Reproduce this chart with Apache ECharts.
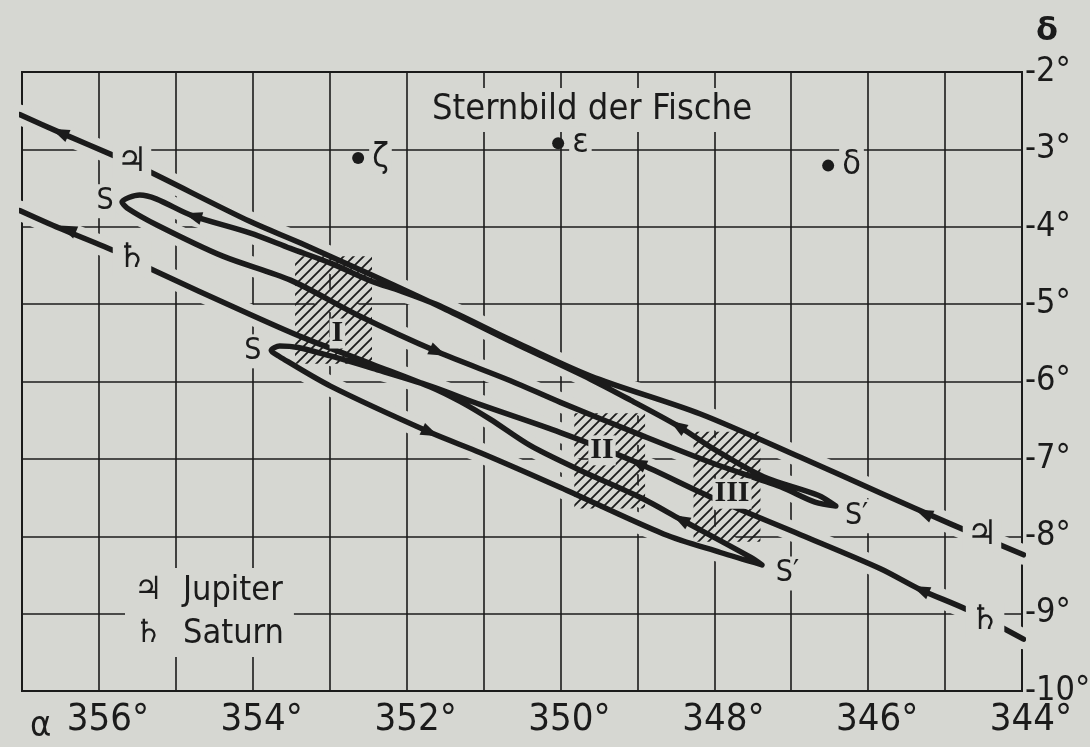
<!DOCTYPE html>
<html><head><meta charset="utf-8">
<script src="https://cdn.jsdelivr.net/npm/echarts@6/dist/echarts.min.js"></script>
<style>html,body{margin:0;padding:0;background:#d6d7d2;}#c{width:1090px;height:747px;}</style>
</head><body><div id="c"></div>
<script>
const BG = '#d6d7d2';
const INK = '#1b1b1b';
const FONT = "'DejaVu Sans Condensed','Liberation Sans Narrow','Liberation Sans',sans-serif";

// tick labels
const xTicks = [356, 354, 352, 350, 348, 346, 344];
const yTicks = [-2, -3, -4, -5, -6, -7, -8, -9, -10];

// Jupiter path [RA α°, Dec δ°] in time order
const jupiterPath = [
  [343.98,-8.24],[344.93,-7.84],[345.84,-7.44],[346.88,-6.98],[348.18,-6.42],[349.61,-5.93],[350.65,-5.46],[351.53,-5.04],
  [352.08,-4.83],[352.44,-4.71],[352.99,-4.47],[353.51,-4.28],[354.04,-4.08],[354.78,-3.86],[355.47,-3.59],[355.70,-3.68],
  [355.63,-3.76],[355.24,-3.98],[354.39,-4.38],[353.51,-4.69],[352.64,-5.14],[351.59,-5.62],[350.65,-5.99],[350.00,-6.27],
  [348.96,-6.69],[348.01,-7.06],[347.14,-7.36],[346.69,-7.56],[346.42,-7.61],
  [346.65,-7.47],[347.36,-7.23],[348.01,-6.87],[348.48,-6.57],[349.09,-6.24],[349.61,-5.97],[350.65,-5.48],[351.53,-5.05],
  [352.44,-4.63],[353.38,-4.21],[354.04,-3.93],[355.36,-3.28],[355.76,-3.10],[356.51,-2.78],[357.03,-2.55]
];
// Saturn path [RA α°, Dec δ°] in time order
const saturnPath = [
  [343.98,-9.33],[344.71,-8.95],[345.32,-8.69],[345.84,-8.42],[346.88,-7.98],[348.01,-7.51],[349.00,-7.05],[350.00,-6.66],
  [351.04,-6.30],[351.69,-6.06],
  [352.44,-5.83],[352.99,-5.67],[353.41,-5.56],[353.65,-5.54],[353.76,-5.60],
  [353.65,-5.68],[352.99,-6.06],[351.69,-6.66],[351.04,-6.92],[350.00,-7.37],[348.66,-7.97],[347.92,-8.21],[347.38,-8.37],
  [347.53,-8.27],[348.44,-7.78],[348.96,-7.50],[349.74,-7.15],[350.39,-6.83],[350.91,-6.49],[351.30,-6.26],[351.69,-6.07],
  [352.44,-5.78],[353.35,-5.43],[354.04,-5.13],[355.36,-4.53],[355.76,-4.33],[356.51,-4.02],[357.03,-3.79]
];
// direction-of-motion arrows placed on the paths
const jupiterArrows = [[356.51,-2.78],[354.78,-3.86],[351.59,-5.62],[348.48,-6.57],[345.28,-7.70]];
const saturnArrows = [[356.41,-4.03],[351.69,-6.66],[348.44,-7.78],[345.32,-8.69],[349.00,-7.05]];

// stars of Pisces
const starNames = ['ζ', 'ε', 'δ'];
const starPos = [[352.63,-3.11],[350.03,-2.92],[346.52,-3.21]];
// stationary points
const stationNames = ['S', 'S′', 'S', 'S′'];
const stationPos = [[355.92,-3.67],[346.15,-7.74],[354.00,-5.61],[347.05,-8.48]];
// planet symbols on the tracks
const glyphNames = ['♃', '♃', '♄', '♄'];
const glyphPos = [[355.57,-3.16],[344.52,-7.98],[355.57,-4.41],[344.48,-9.08]];
// conjunctions
const conjNames = ['I', 'II', 'III'];
const conjPos = [[352.90,-5.38],[349.46,-6.89],[347.77,-7.45]];
const conjBoxes = [[353.45,-4.38,352.45,-5.77],[349.82,-6.41,348.90,-7.64],[348.27,-6.65,347.40,-8.07]];

// hatch pattern
const T = 10;
const pc = document.createElement('canvas');
pc.width = T; pc.height = T;
const g = pc.getContext('2d');
g.strokeStyle = INK; g.lineWidth = 1.8;
g.beginPath();
g.moveTo(-1, T + 1); g.lineTo(T + 1, -1);
g.moveTo(-1, 1); g.lineTo(1, -1);
g.moveTo(T - 1, T + 1); g.lineTo(T + 1, T - 1);
g.stroke();
const hatch = { image: pc, repeat: 'repeat' };

const chart = echarts.init(document.getElementById('c'), null, { renderer: 'canvas' });

function labelSeries(id, names, pos, lbl) {
  return {
    id, type: 'scatter', z: 7, silent: true, symbolSize: 1,
    itemStyle: { color: 'rgba(0,0,0,0)', opacity: 1 },
    data: pos.map((p, i) => ({ name: names[i], value: p })),
    label: Object.assign({ show: true, position: 'inside', formatter: '{b}', color: INK, opacity: 1, backgroundColor: BG }, lbl)
  };
}

const option = {
  animation: false,
  backgroundColor: BG,
  title: {
    text: 'Sternbild der Fische', left: 426, top: 88, padding: [3, 6], backgroundColor: BG,
    textStyle: { fontFamily: FONT, fontSize: 36, fontWeight: 'normal', color: INK, lineHeight: 38 }
  },
  legend: {
    data: ['Jupiter', 'Saturn'], orient: 'vertical', left: 125, top: 568,
    itemWidth: 0, itemHeight: 0, itemGap: 9, selectedMode: false,
    backgroundColor: BG, padding: [6, 10, 6, 3],
    formatter: n => '{g|' + (n === 'Jupiter' ? '♃' : '♄') + '}{t|' + n + '}',
    textStyle: {
      rich: {
        g: { fontFamily: 'DejaVu Sans', fontSize: 32, width: 49, color: INK, lineHeight: 36 },
        t: { fontFamily: FONT, fontSize: 34, color: INK, lineHeight: 36 }
      }
    }
  },
  grid: { left: 22, right: 68, top: 72, bottom: 56, show: true, borderColor: INK, borderWidth: 2,
          outerBoundsMode: 'none', containLabel: false },
  xAxis: {
    type: 'value', min: 344, max: 357, interval: 1, inverse: true, position: 'bottom',
    axisLine: { show: true, lineStyle: { color: INK, width: 2 } },
    axisTick: { show: false },
    splitLine: { show: true, lineStyle: { color: INK, width: 1.6 } },
    axisLabel: {
      formatter: v => xTicks.includes(v) ? v + '°' : '', showMinLabel: true, showMaxLabel: true,
      fontFamily: FONT, fontSize: 38, color: INK, margin: 10, padding: [0, 0, 0, 18]
    },
    name: 'α', nameLocation: 'end', nameGap: -8,
    nameTextStyle: { fontFamily: FONT, fontSize: 36, color: INK, align: 'left', verticalAlign: 'top', padding: [18, 0, 0, 0] }
  },
  yAxis: {
    type: 'value', min: -10, max: -2, interval: 1, position: 'right',
    axisLine: { show: true, lineStyle: { color: INK, width: 2 } },
    axisTick: { show: false },
    splitLine: { show: true, lineStyle: { color: INK, width: 1.6 } },
    axisLabel: {
      formatter: v => yTicks.includes(v) ? v + '°' : '', showMinLabel: true, showMaxLabel: true,
      fontFamily: FONT, fontSize: 34, color: INK, margin: 3
    },
    name: 'δ', nameLocation: 'end', nameGap: 24,
    nameTextStyle: { fontFamily: 'DejaVu Sans', fontWeight: 'bold', fontSize: 32, color: INK, align: 'left', padding: [0, 0, 0, 14] }
  },
  series: [
    { id: 'jHalo', name: 'Jupiter halo', type: 'line', data: jupiterPath, symbol: 'none', smooth: 0.3, silent: true, z: 2,
      lineStyle: { color: BG, width: 20, cap: 'round', join: 'round' } },
    { id: 'sHalo', name: 'Saturn halo', type: 'line', data: saturnPath, symbol: 'none', smooth: 0.3, silent: true, z: 2,
      lineStyle: { color: BG, width: 20, cap: 'round', join: 'round' } },
    { id: 'conj', name: 'Konjunktion', type: 'custom', z: 3, silent: true,
      encode: { x: [0, 2], y: [1, 3] }, data: conjBoxes,
      renderItem: (params, api) => {
        const p1 = api.coord([api.value(0), api.value(1)]);
        const p2 = api.coord([api.value(2), api.value(3)]);
        return { type: 'rect', shape: { x: Math.min(p1[0], p2[0]), y: Math.min(p1[1], p2[1]), width: Math.abs(p2[0] - p1[0]), height: Math.abs(p2[1] - p1[1]) },
                 style: { fill: hatch } };
      } },
    { id: 'jLine', name: 'Jupiter', type: 'line', data: jupiterPath, symbol: 'none', smooth: 0.3, silent: true, z: 4,
      itemStyle: { color: INK }, lineStyle: { color: INK, width: 5.5, cap: 'round', join: 'round' } },
    { id: 'sLine', name: 'Saturn', type: 'line', data: saturnPath, symbol: 'none', smooth: 0.3, silent: true, z: 4,
      itemStyle: { color: INK }, lineStyle: { color: INK, width: 5.5, cap: 'round', join: 'round' } },
    { id: 'jArrows', type: 'scatter', z: 5, silent: true, symbol: 'triangle', symbolSize: [13, 18], itemStyle: { color: INK, opacity: 1 }, data: [] },
    { id: 'sArrows', type: 'scatter', z: 5, silent: true, symbol: 'triangle', symbolSize: [13, 18], itemStyle: { color: INK, opacity: 1 }, data: [] },
    { id: 'stars', type: 'scatter', z: 6, silent: true, symbol: 'circle', symbolSize: 12, itemStyle: { color: INK, opacity: 1 },
      data: starPos.map((p, i) => ({ name: starNames[i], value: p })),
      label: { show: true, position: 'right', distance: 5, formatter: '{b}', color: INK, opacity: 1, fontFamily: FONT, fontSize: 34, backgroundColor: BG, padding: [0, 3] } },
    labelSeries('stations', stationNames, stationPos, { fontFamily: FONT, fontSize: 30, padding: [2, 2] }),
    labelSeries('glyphs', glyphNames, glyphPos, { fontFamily: 'DejaVu Sans', fontSize: 34, padding: [0, 4] }),
    labelSeries('conjLabels', conjNames, conjPos, { fontFamily: "'Liberation Serif','DejaVu Serif',serif", fontWeight: 'bold', fontSize: 30, padding: [0, 2] })
  ]
};
chart.setOption(option);

function arrowData(path, arrows) {
  const px = path.map(p => chart.convertToPixel({ gridIndex: 0 }, p));
  return arrows.map(a => {
    const q = chart.convertToPixel({ gridIndex: 0 }, a);
    let best = 0, bd = Infinity;
    for (let i = 0; i < px.length - 1; i++) {
      const [x1, y1] = px[i], [x2, y2] = px[i + 1];
      const dx = x2 - x1, dy = y2 - y1, L = dx * dx + dy * dy || 1;
      let t = ((q[0] - x1) * dx + (q[1] - y1) * dy) / L; t = Math.max(0, Math.min(1, t));
      const d = Math.hypot(q[0] - (x1 + t * dx), q[1] - (y1 + t * dy));
      if (d < bd) { bd = d; best = i; }
    }
    const p1 = px[best], p2 = px[best + 1];
    const ang = Math.atan2(-(p2[1] - p1[1]), p2[0] - p1[0]) * 180 / Math.PI;
    return { value: a, symbolRotate: ang - 90 };
  });
}
chart.setOption({ series: [
  { id: 'jArrows', data: arrowData(jupiterPath, jupiterArrows) },
  { id: 'sArrows', data: arrowData(saturnPath, saturnArrows) }
] });
</script></body></html>
